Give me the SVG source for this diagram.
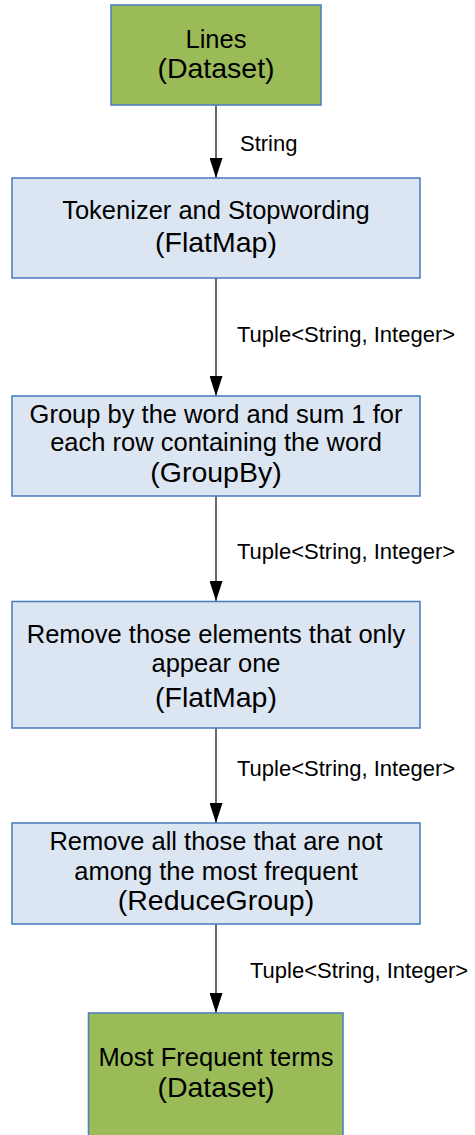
<svg xmlns="http://www.w3.org/2000/svg" width="475" height="1135" viewBox="0 0 475 1135">
  <style>
    .data { fill: #9bbb59; stroke: #4f81bd; stroke-width: 1.6; }
    .op { fill: #dce6f2; stroke: #4f81bd; stroke-width: 1.6; }
    .body { font-family: "Liberation Sans", Arial, sans-serif; font-size: 25.5px; fill: #000; text-anchor: middle; }
    .kind { font-family: "Liberation Sans", Arial, sans-serif; font-size: 28.5px; fill: #000; text-anchor: middle; }
    .label { font-family: "Liberation Sans", Arial, sans-serif; font-size: 22px; fill: #000; }
    .edge { stroke: #1a1a1a; stroke-width: 1.3; fill: none; }
  </style>
  <defs>
    <marker id="arrow" markerUnits="userSpaceOnUse" markerWidth="20" markerHeight="13" refX="20" refY="6.5" orient="auto" viewBox="0 0 20 13">
      <path d="M0,0 L20,6.5 L0,13 Z" fill="#000"/>
    </marker>
  </defs>
  <rect width="475" height="1135" fill="#fff"/>

  <g id="connectors">
    <line class="edge" x1="216" y1="105" x2="216" y2="178" marker-end="url(#arrow)"/>
    <line class="edge" x1="216" y1="278" x2="216" y2="396" marker-end="url(#arrow)"/>
    <line class="edge" x1="216" y1="496" x2="216" y2="601" marker-end="url(#arrow)"/>
    <line class="edge" x1="216" y1="728" x2="216" y2="823" marker-end="url(#arrow)"/>
    <line class="edge" x1="216" y1="924" x2="216" y2="1013" marker-end="url(#arrow)"/>
    <text class="label" x="240" y="151">String</text>
    <text class="label" x="237" y="342">Tuple&lt;String, Integer&gt;</text>
    <text class="label" x="237" y="559">Tuple&lt;String, Integer&gt;</text>
    <text class="label" x="237" y="776">Tuple&lt;String, Integer&gt;</text>
    <text class="label" x="250" y="978">Tuple&lt;String, Integer&gt;</text>
  </g>

  <g id="lines">
    <rect class="data" x="111" y="5" width="210" height="100"/>
    <text class="body" x="216" y="48">Lines</text>
    <text class="kind" x="216" y="78">(Dataset)</text>
  </g>

  <g id="tokenizer">
    <rect class="op" x="12" y="178" width="408" height="100"/>
    <text class="body" x="216" y="219">Tokenizer and Stopwording</text>
    <text class="kind" x="216" y="251.5">(FlatMap)</text>
  </g>

  <g id="groupby">
    <rect class="op" x="12" y="396" width="408" height="100"/>
    <text class="body" x="216" y="423">Group by the word and sum 1 for</text>
    <text class="body" x="216" y="451">each row containing the word</text>
    <text class="kind" x="216" y="482">(GroupBy)</text>
  </g>

  <g id="remove-single">
    <rect class="op" x="12" y="601.5" width="408" height="126.5"/>
    <text class="body" x="216" y="643">Remove those elements that only</text>
    <text class="body" x="216" y="672">appear one</text>
    <text class="kind" x="216" y="707">(FlatMap)</text>
  </g>

  <g id="reduce">
    <rect class="op" x="12" y="823" width="408" height="101"/>
    <text class="body" x="216" y="850">Remove all those that are not</text>
    <text class="body" x="216" y="879.5">among the most frequent</text>
    <text class="kind" x="216" y="910">(ReduceGroup)</text>
  </g>

  <g id="frequent-terms">
    <rect class="data" x="88.5" y="1013" width="254.5" height="130"/>
    <text class="body" x="216" y="1066">Most Frequent terms</text>
    <text class="kind" x="216" y="1097">(Dataset)</text>
  </g>
</svg>
